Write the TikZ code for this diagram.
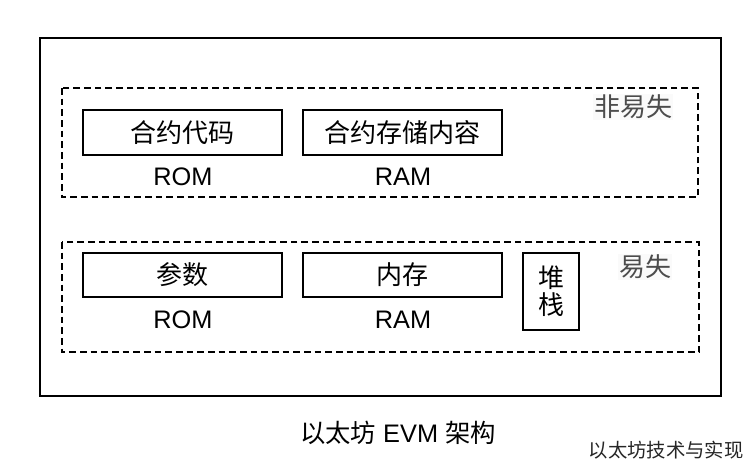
\documentclass[tikz,border=0pt]{standalone}
\usepackage{fontspec}
\setmainfont{Liberation Sans}
\newfontfamily\cjk{Noto Sans CJK SC}
\usetikzlibrary{positioning}

\tikzset{
  membox/.style={draw, line width=1.3pt, inner sep=0pt,
    minimum width=149pt, minimum height=33.5pt,
    font=\fontsize{19.5}{22}\selectfont\cjk},
  region/.style={line width=1pt, dash pattern=on 5pt off 3pt},
  kind/.style={font=\fontsize{19}{22}\selectfont},
  tag/.style={fill=gray!4, text=black!70, inner sep=1pt,
    font=\fontsize{19.5}{22}\selectfont\cjk}
}

\begin{document}
\begin{tikzpicture}[x=0.75pt, y=-0.75pt]

  \useasboundingbox (0,0) rectangle (756,468);

  % EVM
  \draw[line width=1.5pt] (40,38) rectangle (721,396);

  % Non-volatile part
  \draw[region] (62,88) rectangle (698,197);
  \node[tag] (nonvolatile) at (633,107) {非易失};
  \node[membox] (code) at (182.5,132.5) {合约代码};
  \node[kind] (coderom) at (183,177) {ROM};
  \node[membox] (storage) at (402.5,132.5) {合约存储内容};
  \node[kind] (storageram) at (403,177) {RAM};

  % Volatile part
  \draw[region] (62,242) rectangle (699,352);
  \node[tag] (volatile) at (645,267) {易失};
  \node[membox] (args) at (182.5,275) {参数};
  \node[kind] (argsrom) at (183,320) {ROM};
  \node[membox] (memory) at (402.5,275) {内存};
  \node[kind] (memoryram) at (403,320) {RAM};
  \node[membox, minimum width=42pt, minimum height=57.5pt, align=center,
    font=\fontsize{19.5}{20}\selectfont\cjk] (stack) at (551,291.5) {堆\\栈};

  % Caption
  \node[kind] (caption) at (398,433) {{\cjk 以太坊} EVM {\cjk 架构}};
  \node[text=black!85, font=\fontsize{14.5}{16}\selectfont\cjk] (mark) at (666,450) {以太坊技术与实现};

\end{tikzpicture}
\end{document}
